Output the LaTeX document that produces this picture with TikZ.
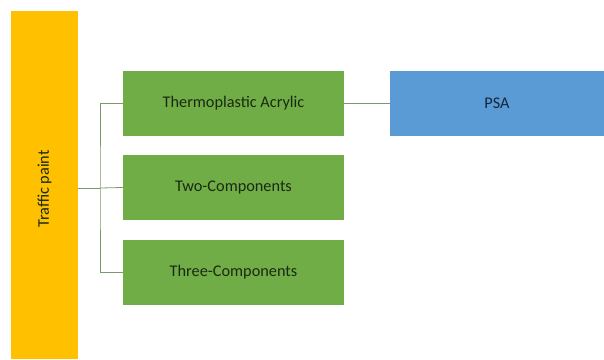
\documentclass[tikz,border=0pt]{standalone}
\usepackage{fontspec}
\setmainfont{Carlito}
\definecolor{ypaint}{HTML}{FFC000}
\definecolor{gbox}{HTML}{70AD47}
\definecolor{bbox}{HTML}{5B9BD5}
\definecolor{lnk}{HTML}{7A9A6A}
\definecolor{gtext}{HTML}{1A2A10}
\definecolor{btext}{HTML}{16263A}
\begin{document}
\begin{tikzpicture}[x=1pt,y=-1pt,
  catbox/.style={fill=gbox,draw=none,minimum width=221pt,minimum height=65pt,inner sep=0pt,font=\fontsize{16.3}{18}\selectfont,text=gtext},
  rootbar/.style={fill=ypaint,draw=none,minimum width=67pt,minimum height=348pt,inner sep=0pt},
  subbox/.style={fill=bbox,draw=none,minimum width=214pt,minimum height=65pt,inner sep=0pt,font=\fontsize{16.3}{18}\selectfont,text=btext},
  link/.style={draw=lnk,line width=0.8pt}]
\useasboundingbox (0,0) rectangle (604,359);
\node[rootbar] (root) at (44.5,185) {};
\node[rotate=90,font=\fontsize{16.3}{18}\selectfont,text=gtext] (rootlabel) at (44.5,189) {Traffic paint};
\node[catbox] (c1) at (233.5,103.5) {Thermoplastic Acrylic};
\node[catbox] (c2) at (233.5,187.5) {Two-Components};
\node[catbox] (c3) at (233.5,272) {Three-Components};
\node[subbox] (psa) at (497,103.5) {PSA};
\coordinate (bx) at (100,188);
\draw[link] (root.east |- bx) -- (bx);
\draw[link] (c1.west) -| (bx) |- (c3.west);
\draw[link] (bx) -- (c2.west);
\draw[link] (c1.east) -- (psa.west);
\end{tikzpicture}
\end{document}
